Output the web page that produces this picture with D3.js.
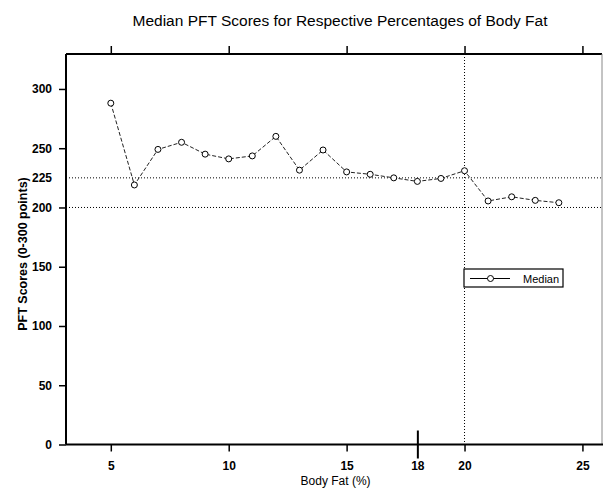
<!DOCTYPE html>
<html>
<head>
<meta charset="utf-8">
<script src="https://cdn.jsdelivr.net/npm/d3@7"></script>
<style>
  html, body { margin: 0; padding: 0; background: #fff; }
  svg { display: block; font-family: "Liberation Sans", Arial, sans-serif; }
</style>
</head>
<body>
<svg id="chart" width="603" height="488"></svg>
<script>
// ---- data ----
const bodyFat = [5, 6, 7, 8, 9, 10, 11, 12, 13, 14, 15, 16, 17, 18, 19, 20, 21, 22, 23, 24];
const medianScores = [288, 219, 249, 255, 245, 241, 243.5, 260, 231.5, 248.5, 230, 228, 225, 222, 224.5, 231, 205.5, 209, 206, 204];
const xTickValues = [5, 10, 15, 18, 20, 25];
const yTickValues = [0, 50, 100, 150, 200, 225, 250, 300];
const refScores = [225, 200];
const refBodyFat = [20];
const title = "Median PFT Scores for Respective Percentages of Body Fat";
const xTitle = "Body Fat (%)";
const yTitle = "PFT Scores (0-300 points)";
const seriesName = "Median";

(function () {
// ---- layout ----
const pLeft = 66, pRight = 602, pTop = 54, pBottom = 444.5;
const svg = d3.select("#chart");

const x = d3.scaleLinear().domain([3.1, 25.83]).range([pLeft, pRight]);
const y = d3.scaleLinear().domain([0, 329.5]).range([pBottom, pTop]);

// title
svg.append("text")
  .attr("x", 340).attr("y", 26)
  .attr("text-anchor", "middle")
  .attr("font-size", 15.5)
  .attr("fill", "#000")
  .text(title);

// reference lines
svg.selectAll("line.href").data(refScores).enter().append("line")
  .attr("class", "href")
  .attr("x1", pLeft).attr("x2", pRight)
  .attr("y1", d => y(d)).attr("y2", d => y(d))
  .attr("stroke", "#000").attr("stroke-width", 1)
  .attr("stroke-dasharray", "1,2");

svg.selectAll("line.vref").data(refBodyFat).enter().append("line")
  .attr("class", "vref")
  .attr("x1", d => x(d)).attr("x2", d => x(d))
  .attr("y1", pTop).attr("y2", pBottom)
  .attr("stroke", "#000").attr("stroke-width", 1)
  .attr("stroke-dasharray", "1,2");

// frame
svg.append("line").attr("x1", pLeft).attr("x2", pRight).attr("y1", pTop).attr("y2", pTop)
  .attr("stroke", "#000").attr("stroke-width", 2);
svg.append("line").attr("x1", pRight).attr("x2", pRight).attr("y1", pTop).attr("y2", pBottom)
  .attr("stroke", "#888").attr("stroke-width", 1);

// top ticks (pointing up)
const topAxis = d3.axisTop(x).tickValues([5, 10, 15, 20, 25]).tickSize(8).tickFormat("");
svg.append("g").attr("transform", `translate(0,${pTop})`).call(topAxis)
  .call(g => g.select(".domain").remove())
  .call(g => g.selectAll(".tick line").attr("stroke-width", 1.5));

// left axis
const yAxis = d3.axisLeft(y).tickValues(yTickValues).tickSize(7).tickPadding(7).tickSizeOuter(0);
const gy = svg.append("g").attr("transform", `translate(${pLeft},0)`).call(yAxis);
gy.select(".domain").attr("stroke-width", 2).attr("d", `M0,${pTop}V${pBottom}`);
gy.selectAll(".tick line").attr("stroke-width", 1.5)
  .filter(d => d === 225).remove();
gy.selectAll(".tick text").attr("font-size", 12).attr("font-weight", "bold")
  .attr("font-family", "Liberation Sans, Arial, sans-serif").attr("fill", "#000");

// bottom axis
const xAxis = d3.axisBottom(x).tickValues(xTickValues).tickSize(7).tickPadding(10).tickSizeOuter(0);
const gx = svg.append("g").attr("transform", `translate(0,${pBottom})`).call(xAxis);
gx.select(".domain").attr("stroke-width", 2).attr("d", `M${pLeft},0H603`);
gx.selectAll(".tick line").attr("stroke-width", 1.5);
gx.selectAll(".tick").filter(d => d === 18).select("line")
  .attr("y1", -14).attr("y2", 14).attr("stroke-width", 2);
gx.selectAll(".tick text").attr("font-size", 12).attr("font-weight", "bold")
  .attr("font-family", "Liberation Sans, Arial, sans-serif").attr("fill", "#000");

// axis titles
svg.append("text")
  .attr("x", (x(5) + x(25)) / 2 - 11).attr("y", 485)
  .attr("text-anchor", "middle").attr("font-size", 12)
  .text(xTitle);
svg.append("text")
  .attr("transform", `translate(27,${254}) rotate(-90)`)
  .attr("text-anchor", "middle").attr("font-size", 12.5).attr("font-weight", "bold")
  .text(yTitle);

// series line
const pts = bodyFat.map((b, i) => [b, medianScores[i]]);
svg.append("path")
  .datum(pts)
  .attr("fill", "none").attr("stroke", "#222").attr("stroke-width", 1)
  .attr("stroke-dasharray", "4,2")
  .attr("d", d3.line().x(d => x(d[0])).y(d => y(d[1])));

svg.selectAll("circle.pt").data(pts).enter().append("circle")
  .attr("class", "pt")
  .attr("cx", d => x(d[0])).attr("cy", d => y(d[1])).attr("r", 3)
  .attr("fill", "#fff").attr("stroke", "#000").attr("stroke-width", 1);

// legend
const lg = svg.append("g").attr("transform", "translate(464,269)");
lg.append("rect").attr("x", 0).attr("y", 0).attr("width", 99).attr("height", 18)
  .attr("fill", "#fff").attr("stroke", "#000").attr("stroke-width", 1.2);
lg.append("line").attr("x1", 6).attr("x2", 46).attr("y1", 9.5).attr("y2", 9.5)
  .attr("stroke", "#000").attr("stroke-width", 1);
lg.append("circle").attr("cx", 26.5).attr("cy", 9.5).attr("r", 3)
  .attr("fill", "#fff").attr("stroke", "#000");
lg.append("text").attr("x", 59).attr("y", 13.5).attr("font-size", 11)
  .text(seriesName);
})();
</script>
</body>
</html>
